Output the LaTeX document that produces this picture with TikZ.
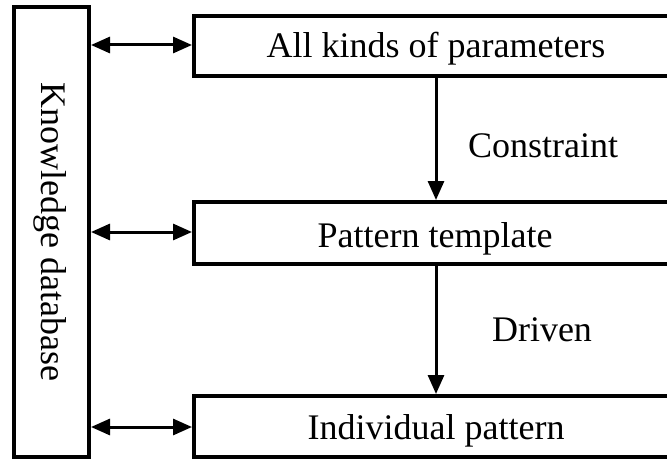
\documentclass[tikz,border=0pt]{standalone}
\usepackage{fontspec}
\setmainfont{Liberation Serif}
\usetikzlibrary{arrows.meta}
\begin{document}
\begin{tikzpicture}[x=1pt,y=-1pt,
  box/.style={draw=black,line width=3.5pt},
  lbl/.style={font=\fontsize{36}{42}\selectfont,inner sep=0pt,anchor=base},
  vlbl/.style={font=\fontsize{36}{42}\selectfont,inner sep=0pt},
  tip/.style={},
  conn/.style={line width=3pt,-{Triangle[length=19pt,width=16pt]}},
  dconn/.style={line width=3pt,{Triangle[length=19pt,width=16pt]}-{Triangle[length=19pt,width=16pt]}}]
\useasboundingbox (0,0) rectangle (667,460);
% left box
\draw[box] (14,7) rectangle (89,457);
\node[vlbl,rotate=-90] (kd) at (50,232) {Knowledge database};
% boxes
\draw[box] (194,16) rectangle (680,76);
\draw[box] (194,202) rectangle (680,264);
\draw[box] (194,396) rectangle (680,457);
\node[lbl] (p1) at (436,58) {All kinds of parameters};
\node[lbl] (p2) at (435,247) {Pattern template};
\node[lbl] (p3) at (436,439) {Individual pattern};
\node[lbl] (c1) at (543,157) {Constraint};
\node[lbl] (c2) at (542,341) {Driven};
% coordinates
\coordinate (a1l) at (91,45); \coordinate (a1r) at (192,45);
\coordinate (a2l) at (91,232); \coordinate (a2r) at (192,232);
\coordinate (a3l) at (91,427); \coordinate (a3r) at (192,427);
\coordinate (v1t) at (436,77); \coordinate (v1b) at (436,200);
\coordinate (v2t) at (436,265); \coordinate (v2b) at (436,394);
\draw[dconn] (a1l) -- (a1r);
\draw[dconn] (a2l) -- (a2r);
\draw[dconn] (a3l) -- (a3r);
\draw[conn] (v1t) -- (v1b);
\draw[conn] (v2t) -- (v2b);
\end{tikzpicture}
\end{document}
